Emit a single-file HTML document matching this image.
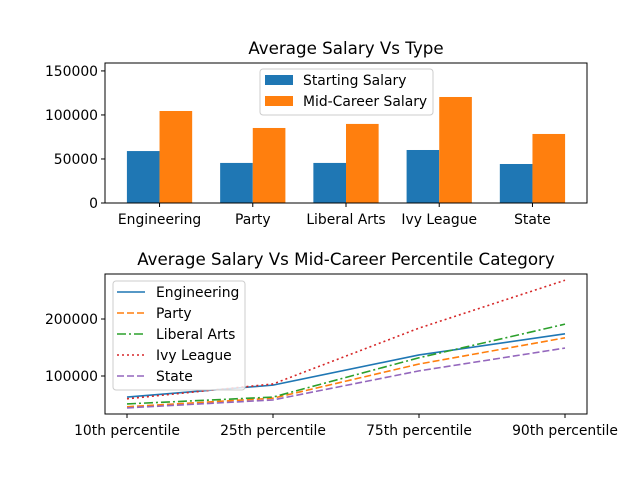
<!DOCTYPE html>
<html><head><meta charset="utf-8"><style>body{margin:0;background:#fff}svg{display:block;font-family:"DejaVu Sans","Liberation Sans",sans-serif}</style></head>
<body>
<svg id="c" width="640" height="480" xmlns="http://www.w3.org/2000/svg"></svg>
<script>
const barCats = ["Engineering","Party","Liberal Arts","Ivy League","State"];
const startSal = [59000,45500,45500,60200,44300];
const midSal = [104500,85200,89800,120400,78400];
const barTicks = [0,50000,100000,150000];
const pctCats = ["10th percentile","25th percentile","75th percentile","90th percentile"];
const engVals = [63000,84000,137000,174000];
const partyVals = [46000,61000,121000,167000];
const laVals = [51000,63000,132000,191000];
const ivyVals = [60000,86000,184000,268000];
const stateVals = [44000,58000,109000,149000];
const lineTicks = [100000,200000];

const NS="http://www.w3.org/2000/svg", svg=document.getElementById('c');
function el(t,a,p){const e=document.createElementNS(NS,t);for(const k in a)e.setAttribute(k,a[k]);(p||svg).appendChild(e);return e;}
function txt(s,a,p){const e=el('text',a,p);e.textContent=s;return e;}
const TF=13.9, HF=16.7;

// ---- top bar chart
const A={l:105,r:587,t:63,b:203}, ymax=159000;
const bx=v=>A.l+(v+0.585)*(A.r-A.l)/5.17;
const by=v=>A.b-v/ymax*(A.b-A.t);
const g1=el('g',{});


txt("Average Salary Vs Type",{x:(A.l+A.r)/2,y:54,'font-size':HF,'text-anchor':'middle'},g1);
const w=0.35;
barCats.forEach((c,i)=>{
  const r1=el('rect',{x:bx(i-w),y:by(startSal[i]),width:bx(i)-bx(i-w),height:A.b-by(startSal[i]),fill:'#1f77b4'},g1);
  
  
  const r2=el('rect',{x:bx(i),y:by(midSal[i]),width:bx(i+w)-bx(i),height:A.b-by(midSal[i]),fill:'#ff7f0e'},g1);
  
  
  el('line',{x1:bx(i),x2:bx(i),y1:A.b,y2:A.b+4,stroke:'#000'},g1);
  const t=txt(c,{x:bx(i),y:A.b+21,'font-size':TF,'text-anchor':'middle'},g1);
  
});
barTicks.forEach(v=>{
  el('line',{x1:A.l-4,x2:A.l,y1:by(v),y2:by(v),stroke:'#000'},g1);
  const t=txt(String(v),{x:A.l-7,y:by(v)+5,'font-size':TF,'text-anchor':'end'},g1);
  
});
el('rect',{x:A.l,y:A.t,width:A.r-A.l,height:A.b-A.t,fill:'none',stroke:'#000','stroke-width':1},g1);
const lg1=el('g',{},g1);


el('rect',{x:260,y:69,width:173,height:46,rx:3,fill:'#fff','fill-opacity':0.8,stroke:'#ccc'},lg1);
[["Starting Salary",'#1f77b4'],["Mid-Career Salary",'#ff7f0e']].forEach((d,i)=>{
  el('rect',{x:265,y:75+i*21,width:28,height:10,fill:d[1]},lg1);
  txt(d[0],{x:303,y:85+i*21,'font-size':TF},lg1);
});

// ---- bottom line chart
const B={l:105,r:587,t:274,b:414}, ymin2=33300, ymax2=279000;
const lx=i=>127+i*(565-127)/3;
const ly=v=>B.b-(v-ymin2)/(ymax2-ymin2)*(B.b-B.t);
const g2=el('g',{});


txt("Average Salary Vs Mid-Career Percentile Category",{x:(B.l+B.r)/2,y:265,'font-size':HF,'text-anchor':'middle'},g2);
pctCats.forEach((c,i)=>{
  el('line',{x1:lx(i),x2:lx(i),y1:B.b,y2:B.b+4,stroke:'#000'},g2);
  const t=txt(c,{x:lx(i),y:B.b+21,'font-size':TF,'text-anchor':'middle'},g2);
  
});
lineTicks.forEach(v=>{
  el('line',{x1:B.l-4,x2:B.l,y1:ly(v),y2:ly(v),stroke:'#000'},g2);
  const t=txt(String(v),{x:B.l-7,y:ly(v)+5,'font-size':TF,'text-anchor':'end'},g2);
  
});
const series=[["Engineering",engVals,'#1f77b4',''],["Party",partyVals,'#ff7f0e','7,3'],["Liberal Arts",laVals,'#2ca02c','9,3,2,3'],["Ivy League",ivyVals,'#d62728','2,3'],["State",stateVals,'#9467bd','7,3']];
series.forEach(s=>{
  const p=el('polyline',{points:s[1].map((v,i)=>lx(i)+','+ly(v)).join(' '),fill:'none',stroke:s[2],'stroke-width':1.6,'stroke-dasharray':s[3]},g2);
  
  
});
el('rect',{x:B.l,y:B.t,width:B.r-B.l,height:B.b-B.t,fill:'none',stroke:'#000'},g2);
const lg2=el('g',{},g2);


el('rect',{x:113,y:281,width:132,height:109,rx:3,fill:'#fff','fill-opacity':0.8,stroke:'#ccc'},lg2);
series.forEach((s,i)=>{
  const y=292+i*21;
  el('line',{x1:117,x2:145,y1:y,y2:y,stroke:s[2],'stroke-width':1.6,'stroke-dasharray':s[3]},lg2);
  txt(s[0],{x:156,y:y+5,'font-size':TF},lg2);
});
</script>
</body></html>
